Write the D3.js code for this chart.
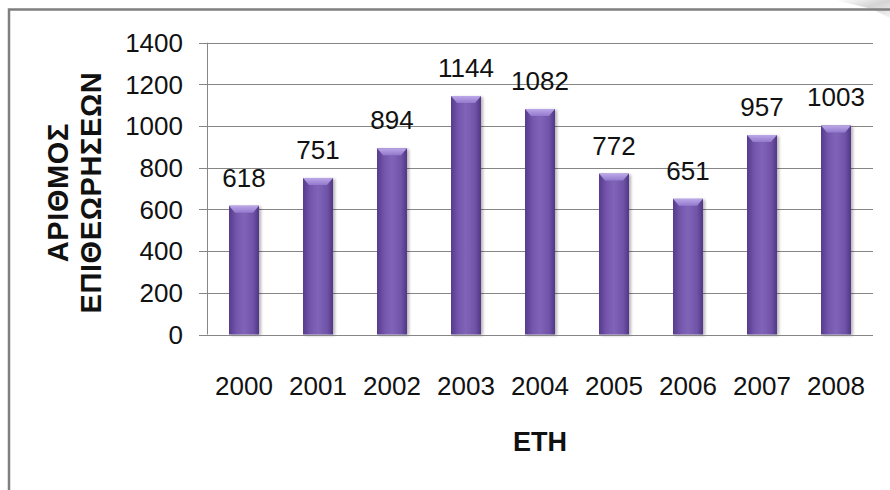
<!DOCTYPE html>
<html>
<head>
<meta charset="utf-8">
<script src="https://cdn.jsdelivr.net/npm/d3@7"></script>
<style>
  body { margin: 0; background: #fff; }
  text { font-family: "Liberation Sans", Arial, sans-serif; fill: #111; }
</style>
</head>
<body>
<div id="chart"></div>
<script>
// data
var years = ["2000", "2001", "2002", "2003", "2004", "2005", "2006", "2007", "2008"];
var inspections = [618, 751, 894, 1144, 1082, 772, 651, 957, 1003];
var yTicks = [0, 200, 400, 600, 800, 1000, 1200, 1400];
var yTitleLines = ["ΑΡΙΘΜΟΣ", "ΕΠΙΘΕΩΡΗΣΕΩΝ"];
var xTitle = "ΕΤΗ";

var svgWidth = 890, svgHeight = 490;
var margin = { left: 207, right: 17, top: 42.7, bottom: 155.5 };

var svg = d3.select("#chart").append("svg")
    .attr("width", svgWidth)
    .attr("height", svgHeight);

var defs = svg.append("defs");

// bar body gradient (dark edges, lighter middle)
var barGrad = defs.append("linearGradient").attr("id", "barGrad")
    .attr("x1", "0%").attr("x2", "100%").attr("y1", "0%").attr("y2", "0%");
barGrad.append("stop").attr("offset", "0%").attr("stop-color", "#563a8c");
barGrad.append("stop").attr("offset", "25%").attr("stop-color", "#7457ad");
barGrad.append("stop").attr("offset", "50%").attr("stop-color", "#8064b8");
barGrad.append("stop").attr("offset", "80%").attr("stop-color", "#7054a8");
barGrad.append("stop").attr("offset", "100%").attr("stop-color", "#513686");

// top bevel
var capGrad = defs.append("linearGradient").attr("id", "capGrad")
    .attr("x1", "0%").attr("x2", "0%").attr("y1", "0%").attr("y2", "100%");
capGrad.append("stop").attr("offset", "0%").attr("stop-color", "#bba8e8");
capGrad.append("stop").attr("offset", "100%").attr("stop-color", "#9479cc");

// page curl stripes
var curlGrad = defs.append("linearGradient").attr("id", "curlGrad")
    .attr("x1", "0%").attr("x2", "100%").attr("y1", "0%").attr("y2", "100%");
curlGrad.append("stop").attr("offset", "0%").attr("stop-color", "#ffffff");
curlGrad.append("stop").attr("offset", "50%").attr("stop-color", "#d4d4d4");
curlGrad.append("stop").attr("offset", "100%").attr("stop-color", "#f4f4f4");

var shadow = defs.append("filter").attr("id", "shadow")
    .attr("x", "-30%").attr("y", "-10%").attr("width", "160%").attr("height", "130%");
shadow.append("feGaussianBlur").attr("in", "SourceAlpha").attr("stdDeviation", 1.5);
shadow.append("feOffset").attr("dx", 2).attr("dy", 1).attr("result", "off");
shadow.append("feComponentTransfer").append("feFuncA").attr("type", "linear").attr("slope", 0.3);
var merge = shadow.append("feMerge");
merge.append("feMergeNode");
merge.append("feMergeNode").attr("in", "SourceGraphic");

// frame
svg.append("polygon")
    .attr("points", "835,0 890,0 890,18 872,9")
    .style("fill", "url(#curlGrad)");
svg.append("path")
    .attr("d", "M9,490 V9.5 H890")
    .style("fill", "none")
    .style("stroke", "#7f7f7f")
    .style("stroke-width", 2.5);

// scales
var x = d3.scaleBand()
    .domain(years)
    .range([margin.left, svgWidth - margin.right])
    .paddingInner(0.595)
    .paddingOuter(0.2975);

var y = d3.scaleLinear()
    .domain([0, 1400])
    .range([svgHeight - margin.bottom, margin.top]);

// gridlines
svg.append("g").selectAll("line")
    .data(yTicks)
    .enter().append("line")
    .attr("x1", margin.left - 8)
    .attr("x2", svgWidth - margin.right)
    .attr("y1", function (d) { return Math.round(y(d)) + 0.5; })
    .attr("y2", function (d) { return Math.round(y(d)) + 0.5; })
    .style("stroke", "#868686")
    .style("stroke-width", 1);

// y axis line
svg.append("line")
    .attr("x1", margin.left + 0.5).attr("x2", margin.left + 0.5)
    .attr("y1", y(1400)).attr("y2", y(0))
    .style("stroke", "#868686");

// y tick labels
svg.append("g").selectAll("text")
    .data(yTicks)
    .enter().append("text")
    .attr("x", 183)
    .attr("y", function (d) { return y(d); })
    .attr("dy", "0.36em")
    .attr("text-anchor", "end")
    .style("font-size", "26px")
    .text(function (d) { return d; });

// bars
var bars = svg.append("g").selectAll("g")
    .data(inspections)
    .enter().append("g")
    .attr("transform", function (d, i) { return "translate(" + x(years[i]) + ",0)"; });

bars.append("rect")
    .attr("x", 0)
    .attr("y", function (d) { return y(d); })
    .attr("width", x.bandwidth())
    .attr("height", function (d) { return y(0) - y(d); })
    .attr("filter", "url(#shadow)")
    .style("fill", "url(#barGrad)");

bars.append("path")
    .attr("d", function (d) {
        var w = x.bandwidth(), t = y(d);
        return "M0," + t + " H" + w + " L" + (w - 6) + "," + (t + 7) + " H6 Z";
    })
    .style("fill", "url(#capGrad)");

// value labels
bars.append("text")
    .attr("x", x.bandwidth() / 2)
    .attr("y", function (d) { return y(d) - 19; })
    .attr("text-anchor", "middle")
    .style("font-size", "26px")
    .text(function (d) { return d; });

// x axis line
svg.append("line")
    .attr("x1", margin.left - 8).attr("x2", svgWidth - margin.right)
    .attr("y1", Math.round(y(0)) + 0.5).attr("y2", Math.round(y(0)) + 0.5)
    .style("stroke", "#868686");

// x tick labels
svg.append("g").selectAll("text")
    .data(years)
    .enter().append("text")
    .attr("x", function (d) { return x(d) + x.bandwidth() / 2; })
    .attr("y", 395)
    .attr("text-anchor", "middle")
    .style("font-size", "26px")
    .text(function (d) { return d; });

// axis titles
svg.append("text")
    .attr("x", (margin.left + svgWidth - margin.right) / 2)
    .attr("y", 451)
    .attr("text-anchor", "middle")
    .style("font-size", "27px")
    .style("font-weight", "bold")
    .text(xTitle);

var yTitle = svg.append("text")
    .attr("transform", "translate(68," + ((y(0) + y(1400)) / 2 + 4) + ") rotate(-90)")
    .attr("text-anchor", "middle")
    .style("font-size", "29px")
    .style("font-weight", "bold")
    .style("letter-spacing", "0.6px");
yTitle.selectAll("tspan")
    .data(yTitleLines)
    .enter().append("tspan")
    .attr("x", 0)
    .attr("dy", function (d, i) { return i === 0 ? 0 : 33; })
    .text(function (d) { return d; });
</script>
</body>
</html>
